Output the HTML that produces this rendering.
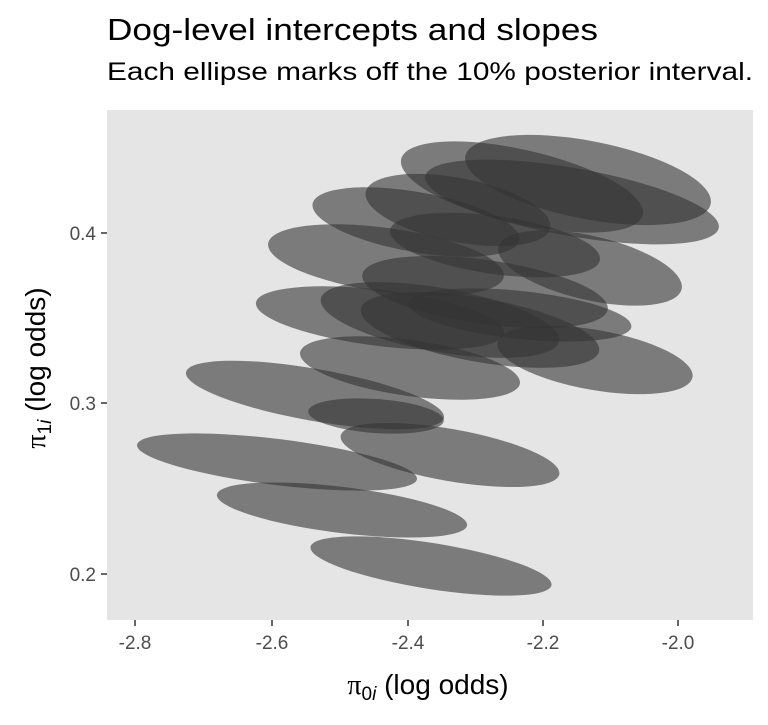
<!DOCTYPE html>
<html><head><meta charset="utf-8"><style>
body{margin:0;background:#fff;}
svg text{font-family:"Liberation Sans",sans-serif;}
</style></head><body>
<svg width="768" height="720" viewBox="0 0 768 720" xmlns="http://www.w3.org/2000/svg">
<rect width="768" height="720" fill="#fff"/>
<text x="107" y="40" font-size="31" fill="#000" textLength="491" lengthAdjust="spacingAndGlyphs">Dog-level intercepts and slopes</text>
<text x="107" y="80" font-size="25" fill="#000" textLength="646" lengthAdjust="spacingAndGlyphs">Each ellipse marks off the 10% posterior interval.</text>
<rect x="107" y="110" width="646" height="510" fill="#e5e5e5"/>
<g fill="#333" fill-opacity="0.6">
<ellipse cx="431" cy="566" rx="122" ry="23" transform="rotate(9 431 566)"/>
<ellipse cx="342" cy="510" rx="126" ry="23" transform="rotate(7 342 510)"/>
<ellipse cx="277" cy="462" rx="141" ry="23" transform="rotate(7 277 462)"/>
<ellipse cx="450" cy="455" rx="111" ry="26" transform="rotate(10 450 455)"/>
<ellipse cx="376" cy="416" rx="68" ry="17" transform="rotate(4 376 416)"/>
<ellipse cx="315" cy="395" rx="131" ry="26" transform="rotate(10 315 395)"/>
<ellipse cx="410" cy="368" rx="111" ry="28" transform="rotate(8 410 368)"/>
<ellipse cx="595" cy="360" rx="99" ry="30" transform="rotate(10 595 360)"/>
<ellipse cx="380" cy="318" rx="125" ry="28" transform="rotate(7 380 318)"/>
<ellipse cx="440" cy="320" rx="121" ry="32" transform="rotate(10 440 320)"/>
<ellipse cx="480" cy="330" rx="121" ry="32" transform="rotate(10 480 330)"/>
<ellipse cx="520" cy="315" rx="112" ry="24" transform="rotate(6 520 315)"/>
<ellipse cx="485" cy="292" rx="124" ry="32" transform="rotate(8 485 292)"/>
<ellipse cx="386" cy="260" rx="119" ry="32" transform="rotate(8 386 260)"/>
<ellipse cx="590" cy="268" rx="94" ry="32" transform="rotate(13 590 268)"/>
<ellipse cx="495" cy="245" rx="106" ry="29" transform="rotate(8 495 245)"/>
<ellipse cx="416" cy="222" rx="105" ry="30" transform="rotate(10 416 222)"/>
<ellipse cx="458" cy="210" rx="94" ry="32" transform="rotate(11 458 210)"/>
<ellipse cx="522" cy="187" rx="124" ry="37" transform="rotate(13 522 187)"/>
<ellipse cx="588" cy="180" rx="125" ry="39" transform="rotate(11 588 180)"/>
<ellipse cx="572" cy="202" rx="149" ry="34" transform="rotate(10 572 202)"/>
</g>
<g stroke="#333" stroke-width="1.5">
<line x1="135" y1="620" x2="135" y2="626"/><line x1="272" y1="620" x2="272" y2="626"/>
<line x1="408" y1="620" x2="408" y2="626"/><line x1="543" y1="620" x2="543" y2="626"/>
<line x1="678" y1="620" x2="678" y2="626"/>
<line x1="101" y1="233" x2="107" y2="233"/><line x1="101" y1="403" x2="107" y2="403"/>
<line x1="101" y1="574" x2="107" y2="574"/>
</g>
<g font-size="19" fill="#4d4d4d" text-anchor="middle">
<text x="135" y="649">-2.8</text><text x="272" y="649">-2.6</text><text x="408" y="649">-2.4</text>
<text x="543" y="649">-2.2</text><text x="678" y="649">-2.0</text>
</g>
<g font-size="19" fill="#4d4d4d" text-anchor="end">
<text x="96" y="240">0.4</text><text x="96" y="410">0.3</text><text x="96" y="581">0.2</text>
</g>
<text x="428" y="694" font-size="28" text-anchor="middle" fill="#000"><tspan font-family="Liberation Serif">π</tspan><tspan font-size="19" dy="6">0<tspan font-style="italic">i</tspan></tspan><tspan dy="-6"> (log odds)</tspan></text>
<text transform="translate(45 368) rotate(-90)" font-size="28" text-anchor="middle" fill="#000"><tspan font-family="Liberation Serif">π</tspan><tspan font-size="19" dy="6">1<tspan font-style="italic">i</tspan></tspan><tspan dy="-6"> (log odds)</tspan></text>
</svg>
</body></html>
